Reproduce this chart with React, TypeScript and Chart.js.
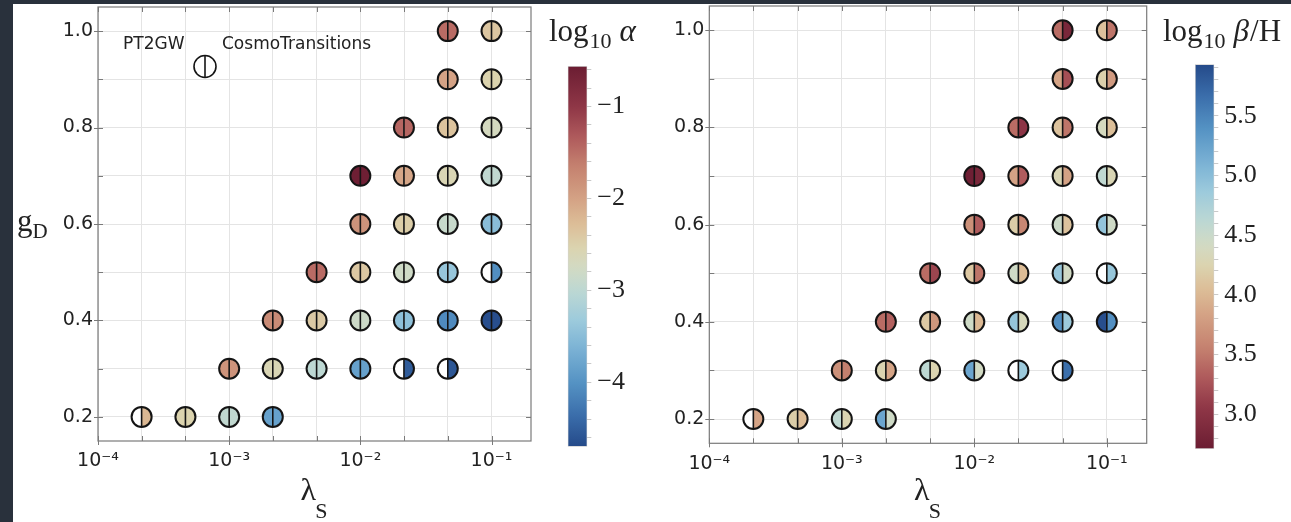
import React, { useEffect, useRef } from "react";
import { Chart, registerables } from "chart.js";

Chart.register(...registerables);

// Scan grid: singlet self-coupling λ_S and dark gauge coupling g_D
const lambdaS = [
  0.0464, 0.1, 0.0464, 0.1, 0.0215, 0.0464, 0.1, 0.01, 0.0215, 0.0464, 0.1, 0.01, 0.0215, 0.0464, 0.1,
  0.00464, 0.01, 0.0215, 0.0464, 0.1, 0.00215, 0.00464, 0.01, 0.0215, 0.0464, 0.1, 0.001, 0.00215, 0.00464,
  0.01, 0.0215, 0.0464, 0.000215, 0.000464, 0.001, 0.00215,
];
const gD = [
  1.0, 1.0, 0.9, 0.9, 0.8, 0.8, 0.8, 0.7, 0.7, 0.7, 0.7, 0.6, 0.6, 0.6, 0.6, 0.5, 0.5, 0.5, 0.5, 0.5, 0.4, 0.4,
  0.4, 0.4, 0.4, 0.4, 0.3, 0.3, 0.3, 0.3, 0.3, 0.3, 0.2, 0.2, 0.2, 0.2,
];

// log10 alpha: PT2GW (left half) and CosmoTransitions (right half); null = no result
const alphaPT2GW = [
  -1.47, -2.38, -2.01, -2.53, -1.43, -2.34, -2.71, -0.6, -2.05, -2.59, -2.96, -1.84, -2.46, -2.88, -3.5, -1.47,
  -2.4, -2.8, -3.38, null, -1.76, -2.42, -2.82, -3.46, -4.08, -4.66, -1.84, -2.59, -3.0, -3.83, null, null, null,
  -2.53, -2.96, -3.83,
];
const alphaCT = [
  -1.47, -2.38, -2.01, -2.53, -1.43, -2.34, -2.71, -0.6, -2.05, -2.59, -2.96, -1.84, -2.46, -2.88, -3.5, -1.47,
  -2.4, -2.8, -3.38, -4.04, -1.76, -2.42, -2.82, -3.46, -4.08, -4.66, -1.84, -2.59, -3.0, -3.83, -4.53, -4.58,
  -2.22, -2.53, -2.96, -3.83,
];

// log10 beta/H: PT2GW (left half) and CosmoTransitions (right half)
const betaPT2GW = [
  3.42, 4.08, 3.85, 4.22, 3.42, 4.09, 4.38, 2.74, 3.84, 4.29, 4.58, 3.68, 4.19, 4.48, 4.93, 3.42, 4.13, 4.45, 4.9,
  null, 3.42, 4.14, 4.45, 4.92, 5.41, 5.9, 3.68, 4.26, 4.61, 5.22, null, null, null, 4.19, 4.58, 5.22,
];
const betaCT = [
  2.84, 3.48, 3.23, 3.77, 3.03, 3.48, 4.06, 2.84, 3.32, 3.84, 4.29, 3.32, 3.61, 4.09, 4.45, 3.16, 3.48, 4.03, 4.43,
  4.9, 3.35, 3.74, 4.0, 4.35, 4.87, 5.41, 3.55, 3.85, 4.26, 4.42, 4.87, 5.66, 3.85, 4.03, 4.26, 4.45,
];

// Axis ticks
const lambdaGrid = [1e-4, 2.154e-4, 4.642e-4, 1e-3, 2.154e-3, 4.642e-3, 1e-2, 2.154e-2, 4.642e-2, 1e-1];
const lambdaDecades = [1e-4, 1e-3, 1e-2, 1e-1];
const lambdaDecadeLabels = ["10\u207B\u2074", "10\u207B\u00B3", "10\u207B\u00B2", "10\u207B\u00B9"];
const gDGrid = [0.2, 0.3, 0.4, 0.5, 0.6, 0.7, 0.8, 0.9, 1.0];
const gDLabelled = [0.2, 0.4, 0.6, 0.8, 1.0];

// Colour bar ranges and ticks
const alphaRange = [-4.7, -0.56];
const alphaTicks = [
  -4.6, -4.4, -4.2, -4.0, -3.8, -3.6, -3.4, -3.2, -3.0, -2.8, -2.6, -2.4, -2.2, -2.0, -1.8, -1.6, -1.4, -1.2, -1.0,
  -0.8, -0.6,
];
const alphaLabelled = [-4, -3, -2, -1];
const betaRange = [2.71, 5.93];
const betaTicks = [
  2.8, 2.9, 3.0, 3.1, 3.2, 3.3, 3.4, 3.5, 3.6, 3.7, 3.8, 3.9, 4.0, 4.1, 4.2, 4.3, 4.4, 4.5, 4.6, 4.7, 4.8, 4.9, 5.0,
  5.1, 5.2, 5.3, 5.4, 5.5, 5.6, 5.7, 5.8, 5.9,
];
const betaLabelled = [3.0, 3.5, 4.0, 4.5, 5.0, 5.5];

// Diverging colour map: 0 = deep blue, 1 = deep red
const CMAP: [number, string][] = [
  [0.0, "#254a89"],
  [0.08, "#3a6daa"],
  [0.17, "#5593c4"],
  [0.26, "#7cb3d5"],
  [0.33, "#9ccadc"],
  [0.41, "#bdd8d3"],
  [0.47, "#d2dac3"],
  [0.52, "#dbd4b0"],
  [0.59, "#dcbc96"],
  [0.65, "#d4a285"],
  [0.74, "#c4806e"],
  [0.81, "#b05c5d"],
  [0.89, "#903747"],
  [1.0, "#6b1d32"],
];

const SANS = '"DejaVu Sans", sans-serif';
const SERIF = '"Liberation Serif", "DejaVu Serif", serif';
const INK = "#222222";
const GRID = "#e4e4e4";
const SPINE = "#7a7a7a";
const DARK = "#29313c";

function hexRgb(h: string) {
  return [parseInt(h.slice(1, 3), 16), parseInt(h.slice(3, 5), 16), parseInt(h.slice(5, 7), 16)];
}

function cmap(t: number): string {
  const u = Math.max(0, Math.min(1, t));
  for (let i = 1; i < CMAP.length; i++) {
    if (u <= CMAP[i][0]) {
      const [t0, c0] = CMAP[i - 1];
      const [t1, c1] = CMAP[i];
      const f = (u - t0) / (t1 - t0);
      const a = hexRgb(c0);
      const b = hexRgb(c1);
      const m = a.map((v, k) => Math.round(v + (b[k] - v) * f));
      return `rgb(${m[0]},${m[1]},${m[2]})`;
    }
  }
  return CMAP[CMAP.length - 1][1];
}

const alphaColour = (v: number) => cmap((v - alphaRange[0]) / (alphaRange[1] - alphaRange[0]));
const betaColour = (v: number) => cmap(1 - (v - betaRange[0]) / (betaRange[1] - betaRange[0]));

const near = (list: number[], v: number) => list.findIndex((d) => Math.abs(d - v) < Math.abs(d) * 1e-3 + 1e-9);

type Vals = (number | null)[];

interface PanelSpec {
  padTop: number;
  padRight: number;
  yWidth: number;
  xHeight: number;
  left: Vals;
  right: Vals;
  colour: (v: number) => string;
  yLabel: boolean;
  legend: boolean;
}

// Frame with inward ticks on all four sides
const framePlugin = {
  id: "frame",
  beforeDatasetsDraw(chart: any) {
    const { ctx, chartArea: a } = chart;
    const xs = chart.scales.x;
    const ys = chart.scales.y;
    ctx.save();
    ctx.strokeStyle = SPINE;
    ctx.lineWidth = 1;
    ctx.beginPath();
    for (const v of lambdaGrid) {
      const px = Math.round(xs.getPixelForValue(v)) + 0.5;
      const major = near(lambdaDecades, v) >= 0;
      ctx.moveTo(px, a.bottom + (major ? 4 : 0));
      ctx.lineTo(px, a.bottom - 5);
      ctx.moveTo(px, a.top);
      ctx.lineTo(px, a.top + 5);
    }
    for (const v of gDGrid) {
      const py = Math.round(ys.getPixelForValue(v)) + 0.5;
      const major = near(gDLabelled, v) >= 0;
      ctx.moveTo(a.left - (major ? 4 : 0), py);
      ctx.lineTo(a.left + 5, py);
      ctx.moveTo(a.right, py);
      ctx.lineTo(a.right - 5, py);
    }
    ctx.stroke();
    ctx.lineWidth = 1.2;
    ctx.strokeRect(a.left, a.top, a.right - a.left, a.bottom - a.top);
    ctx.restore();
  },
};

function drawSplitDisc(ctx: CanvasRenderingContext2D, x: number, y: number, r: number, cl: string, cr: string, lw: number) {
  ctx.beginPath();
  ctx.arc(x, y, r, Math.PI / 2, (3 * Math.PI) / 2);
  ctx.closePath();
  ctx.fillStyle = cl;
  ctx.fill();
  ctx.beginPath();
  ctx.arc(x, y, r, -Math.PI / 2, Math.PI / 2);
  ctx.closePath();
  ctx.fillStyle = cr;
  ctx.fill();
  ctx.strokeStyle = "#141414";
  ctx.lineWidth = lw;
  ctx.beginPath();
  ctx.arc(x, y, r, 0, Math.PI * 2);
  ctx.stroke();
  ctx.lineWidth = 1.6;
  ctx.beginPath();
  ctx.moveTo(x, y - r);
  ctx.lineTo(x, y + r);
  ctx.stroke();
}

function discPlugin(spec: PanelSpec) {
  return {
    id: "splitDiscs",
    afterDatasetsDraw(chart: any) {
      const ctx = chart.ctx as CanvasRenderingContext2D;
      const meta = chart.getDatasetMeta(0);
      ctx.save();
      meta.data.forEach((el: any, i: number) => {
        const { x, y } = el.getProps(["x", "y"], true);
        const l = spec.left[i];
        const r = spec.right[i];
        drawSplitDisc(ctx, x, y, 10, l == null ? "#ffffff" : spec.colour(l), r == null ? "#ffffff" : spec.colour(r), 2);
      });
      ctx.restore();
    },
  };
}

function decorPlugin(spec: PanelSpec) {
  return {
    id: "decor",
    afterDraw(chart: any) {
      const ctx = chart.ctx as CanvasRenderingContext2D;
      const a = chart.chartArea;
      ctx.save();
      ctx.fillStyle = INK;
      ctx.textBaseline = "alphabetic";
      // x-axis title λ_S
      ctx.font = `32px ${SERIF}`;
      const wl = ctx.measureText("\u03BB").width;
      ctx.font = `22px ${SERIF}`;
      const ws = ctx.measureText("S").width;
      const x0 = (a.left + a.right) / 2 - (wl + ws) / 2;
      ctx.font = `32px ${SERIF}`;
      ctx.fillText("\u03BB", x0, 500);
      ctx.font = `22px ${SERIF}`;
      ctx.fillText("S", x0 + wl - 1, 518);
      if (spec.yLabel) {
        ctx.font = `31px ${SERIF}`;
        ctx.fillText("g", 17, 231);
        const wg = ctx.measureText("g").width;
        ctx.font = `21px ${SERIF}`;
        ctx.fillText("D", 17 + wg, 238);
      }
      if (spec.legend) {
        ctx.font = `17px ${SANS}`;
        ctx.textBaseline = "middle";
        ctx.fillText("PT2GW", 123, 45);
        ctx.fillText("CosmoTransitions", 222, 45);
        drawSplitDisc(ctx, 205, 66.5, 11, "#ffffff", "#ffffff", 1.6);
      }
      ctx.restore();
    },
  };
}

function makeScatter(canvas: HTMLCanvasElement, spec: PanelSpec) {
  return new Chart(canvas, {
    type: "scatter",
    data: {
      datasets: [
        {
          data: lambdaS.map((x, i) => ({ x, y: gD[i] })),
          pointRadius: 0,
          pointHoverRadius: 0,
          pointHitRadius: 0,
        },
      ],
    },
    options: {
      animation: false,
      responsive: false,
      events: [],
      layout: { padding: { left: 0, top: spec.padTop, right: spec.padRight, bottom: 0 } },
      plugins: { legend: { display: false }, tooltip: { enabled: false } },
      scales: {
        x: {
          type: "logarithmic",
          min: 1e-4,
          max: 0.2,
          bounds: "data",
          afterBuildTicks: (s: any) => {
            s.ticks = lambdaGrid.map((value) => ({ value }));
          },
          afterFit: (s: any) => {
            s.height = spec.xHeight;
            s.paddingLeft = 0;
            s.paddingRight = 0;
          },
          grid: { color: GRID, lineWidth: 1, drawTicks: false },
          border: { display: false },
          ticks: {
            autoSkip: false,
            maxRotation: 0,
            minRotation: 0,
            padding: 9,
            color: INK,
            font: { family: SANS, size: 19 },
            callback: (v: any) => {
              const k = near(lambdaDecades, Number(v));
              return k >= 0 ? lambdaDecadeLabels[k] : "";
            },
          },
        },
        y: {
          type: "linear",
          min: 0.15,
          max: 1.05,
          bounds: "data",
          afterBuildTicks: (s: any) => {
            s.ticks = gDGrid.map((value) => ({ value }));
          },
          afterFit: (s: any) => {
            s.width = spec.yWidth;
            s.paddingTop = 0;
            s.paddingBottom = 0;
          },
          grid: { color: GRID, lineWidth: 1, drawTicks: false },
          border: { display: false },
          ticks: {
            autoSkip: false,
            padding: 5,
            color: INK,
            font: { family: SANS, size: 19 },
            callback: (v: any) => (near(gDLabelled, Number(v)) >= 0 ? Number(v).toFixed(1) : ""),
          },
        },
      },
    } as any,
    plugins: [framePlugin, discPlugin(spec), decorPlugin(spec)],
  });
}

interface BarSpec {
  range: number[];
  ticks: number[];
  labelled: number[];
  fmt: (v: number) => string;
  redHigh: boolean;
  padLeft: number;
  top: number;
  bottom: number;
  axisWidth: number;
  titleX: number;
  beta: boolean;
}

function titlePlugin(spec: BarSpec) {
  return {
    id: "cbTitle",
    afterDraw(chart: any) {
      const ctx = chart.ctx as CanvasRenderingContext2D;
      ctx.save();
      ctx.fillStyle = INK;
      ctx.textBaseline = "alphabetic";
      let x = spec.titleX;
      const base = 41;
      ctx.font = `31px ${SERIF}`;
      ctx.fillText("log", x, base);
      x += ctx.measureText("log").width;
      ctx.font = `22px ${SERIF}`;
      ctx.fillText("10", x + 1, base + 7);
      x += ctx.measureText("10").width + 9;
      ctx.font = `italic 31px ${SERIF}`;
      if (spec.beta) {
        ctx.fillText("\u03B2", x, base);
        x += ctx.measureText("\u03B2").width + 1;
        ctx.font = `31px ${SERIF}`;
        ctx.fillText("/H", x, base);
      } else {
        ctx.fillText("\u03B1", x, base);
      }
      ctx.restore();
    },
  };
}

function makeColourbar(canvas: HTMLCanvasElement, spec: BarSpec) {
  const [lo, hi] = spec.range;
  return new Chart(canvas, {
    type: "bar",
    data: {
      labels: [""],
      datasets: [
        {
          data: [[lo, hi]] as any,
          backgroundColor: (c: any) => {
            const a = c.chart.chartArea;
            if (!a) return "transparent";
            const g = c.chart.ctx.createLinearGradient(0, a.bottom, 0, a.top);
            for (let i = 0; i <= 48; i++) {
              const s = i / 48;
              g.addColorStop(s, cmap(spec.redHigh ? s : 1 - s));
            }
            return g;
          },
          borderColor: "#d2d2d2",
          borderWidth: 1,
          borderSkipped: false,
          barPercentage: 1,
          categoryPercentage: 1,
        },
      ],
    },
    options: {
      animation: false,
      responsive: false,
      events: [],
      layout: { padding: { left: spec.padLeft, top: spec.top, bottom: spec.bottom, right: 0 } },
      plugins: { legend: { display: false }, tooltip: { enabled: false } },
      scales: {
        x: { display: false },
        y: {
          position: "right",
          min: lo,
          max: hi,
          bounds: "data",
          afterBuildTicks: (s: any) => {
            s.ticks = spec.ticks.map((value) => ({ value }));
          },
          afterFit: (s: any) => {
            s.width = spec.axisWidth;
            s.paddingTop = 0;
            s.paddingBottom = 0;
          },
          grid: { drawOnChartArea: false, drawTicks: true, tickLength: 4, color: "#c9c9c9" },
          border: { display: false },
          ticks: {
            autoSkip: false,
            padding: 6,
            color: INK,
            font: { family: SERIF, size: 26 },
            callback: (v: any) => (near(spec.labelled, Number(v)) >= 0 ? spec.fmt(Number(v)) : ""),
          },
        },
      },
    } as any,
    plugins: [titlePlugin(spec)],
  });
}

const leftPanel: PanelSpec = {
  padTop: 7,
  padRight: 14,
  yWidth: 98,
  xHeight: 81,
  left: alphaPT2GW,
  right: alphaCT,
  colour: alphaColour,
  yLabel: true,
  legend: true,
};

const rightPanel: PanelSpec = {
  padTop: 6,
  padRight: 13.3,
  yWidth: 89.3,
  xHeight: 78.7,
  left: betaPT2GW,
  right: betaCT,
  colour: betaColour,
  yLabel: false,
  legend: false,
};

const alphaBar: BarSpec = {
  range: alphaRange,
  ticks: alphaTicks,
  labelled: alphaLabelled,
  fmt: (v) => "\u2212" + Math.abs(v).toFixed(0),
  redHigh: true,
  padLeft: 27.7,
  top: 66,
  bottom: 75.3,
  axisWidth: 62.7,
  titleX: 9,
  beta: false,
};

const betaBar: BarSpec = {
  range: betaRange,
  ticks: betaTicks,
  labelled: betaLabelled,
  fmt: (v) => v.toFixed(1),
  redHigh: false,
  padLeft: 45,
  top: 64.3,
  bottom: 73,
  axisWidth: 76.7,
  titleX: 13,
  beta: true,
};

const abs = (left: number, w: number): React.CSSProperties => ({
  position: "absolute",
  left,
  top: 0,
  width: w,
  height: 522,
});

export default function App() {
  const c1 = useRef<HTMLCanvasElement>(null);
  const c2 = useRef<HTMLCanvasElement>(null);
  const c3 = useRef<HTMLCanvasElement>(null);
  const c4 = useRef<HTMLCanvasElement>(null);

  useEffect(() => {
    const charts = [
      makeScatter(c1.current!, leftPanel),
      makeScatter(c2.current!, rightPanel),
      makeColourbar(c3.current!, alphaBar),
      makeColourbar(c4.current!, betaBar),
    ];
    return () => charts.forEach((c) => c.destroy());
  }, []);

  return (
    <div
      style={{
        position: "fixed",
        left: 0,
        top: 0,
        width: 1291,
        height: 522,
        background: "#ffffff",
        overflow: "hidden",
      }}
    >
      <div style={{ position: "absolute", left: 0, top: 0, width: 1291, height: 4, background: DARK }} />
      <div style={{ position: "absolute", left: 0, top: 0, width: 13, height: 522, background: DARK }} />
      <canvas ref={c1} width={545} height={522} style={abs(0, 545)} />
      <canvas ref={c2} width={540} height={522} style={abs(620, 540)} />
      <canvas ref={c3} width={110} height={522} style={abs(540, 110)} />
      <canvas ref={c4} width={141} height={522} style={abs(1150, 141)} />
    </div>
  );
}
